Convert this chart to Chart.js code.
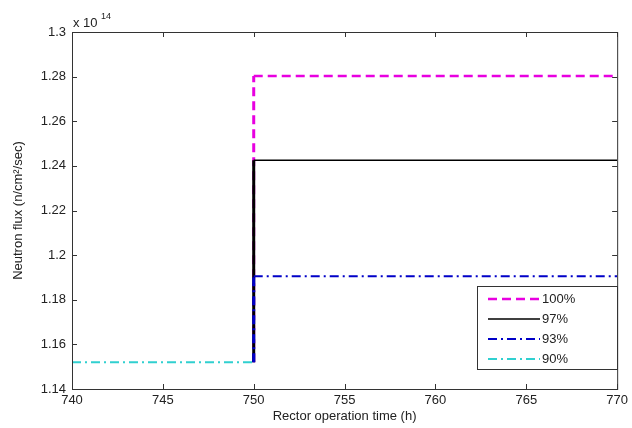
<!DOCTYPE html>
<html>
<head>
<meta charset="utf-8">
<script src="https://cdn.jsdelivr.net/npm/chart.js@4"></script>
<style>
  html, body { margin: 0; padding: 0; background: #fff; }
  #wrap { width: 632px; height: 428px; position: relative; }
</style>
</head>
<body>
<div id="wrap"><canvas id="flux-chart"></canvas></div>
<script>
// series names (legend)
const series_names = ['100%', '97%', '93%', '90%']

// time points in hours, step happens at 750 h
const time_step = [750, 750, 770]
const time_before = [740, 750]

// neutron flux, units of 1e14 n/cm2/sec
const flux_100 = [1.152, 1.2803, 1.2803]
const flux_97 = [1.152, 1.2425, 1.2425]
const flux_93 = [1.152, 1.1905, 1.1905]
const flux_90 = [1.152, 1.152]

const x_ticks = [740, 745, 750, 755, 760, 765, 770]
const y_ticks = [1.14, 1.16, 1.18, 1.2, 1.22, 1.24, 1.26, 1.28, 1.3]

const colors = ['#e800e0', '#000000', '#0000c8', '#30d0d0']
const dashes = [[9, 5], [], [9, 4, 2, 4], [9, 4, 2, 4]]
const widths = [2.5, 1.5, 2, 2]

function to_points(xs, ys) {
    let result = []
    for (let i = 0; i < xs.length; i++) {
        result.push({x: xs[i], y: ys[i]})
    }
    return result
}

const font_family = '"Liberation Sans", Arial, sans-serif'
const text_color = '#222'

let datasets = [
    to_points(time_step, flux_100),
    to_points(time_step, flux_97),
    to_points(time_step, flux_93),
    to_points(time_before, flux_90)
].map(function (pts, i) {
    return {
        label: series_names[i],
        data: pts,
        borderColor: colors[i],
        borderDash: dashes[i],
        borderWidth: widths[i],
        pointRadius: 0,
        fill: false,
        tension: 0,
        order: 3 - i,
        segment: {
            // the jump at 750 h looks heavier in the original
            borderWidth: function (s) {
                return s.p0.parsed.x === s.p1.parsed.x ? 3 : widths[i]
            }
        }
    }
})

// box round the plot with inward ticks, like the matlab axes
const box_plugin = {
    id: 'box',
    afterDatasetsDraw(chart) {
        const c = chart.ctx
        const a = chart.chartArea
        const xs = chart.scales.x
        const ys = chart.scales.y
        c.save()
        c.strokeStyle = '#333'
        c.lineWidth = 1
        c.strokeRect(a.left + 0.5, a.top + 0.5, a.right - a.left, a.bottom - a.top)
        c.beginPath()
        x_ticks.forEach(function (t) {
            let px = Math.round(xs.getPixelForValue(t)) + 0.5
            c.moveTo(px, a.bottom); c.lineTo(px, a.bottom - 5)
            c.moveTo(px, a.top); c.lineTo(px, a.top + 5)
        })
        y_ticks.forEach(function (t) {
            let py = Math.round(ys.getPixelForValue(t)) + 0.5
            c.moveTo(a.left, py); c.lineTo(a.left + 5, py)
            c.moveTo(a.right, py); c.lineTo(a.right - 5, py)
        })
        c.stroke()

        // exponent label
        c.fillStyle = text_color
        c.textBaseline = 'alphabetic'
        c.textAlign = 'left'
        c.font = '13px ' + font_family
        c.fillText('x 10', a.left + 1, 27)
        c.font = '9px ' + font_family
        c.fillText('14', a.left + 29, 19)
        c.restore()
    },
    afterDraw(chart) {
        // legend box inside the axes
        const c = chart.ctx
        const lx = 477, ly = 286, lw = 140, lh = 83
        c.save()
        c.fillStyle = '#fff'
        c.fillRect(lx, ly, lw, lh)
        c.strokeStyle = '#333'
        c.lineWidth = 1
        c.strokeRect(lx + 0.5, ly + 0.5, lw, lh)
        c.font = '13px ' + font_family
        c.textBaseline = 'middle'
        c.textAlign = 'left'
        for (let i = 0; i < series_names.length; i++) {
            let y = ly + 13 + i * 20
            c.beginPath()
            c.setLineDash(dashes[i])
            c.strokeStyle = colors[i]
            c.lineWidth = widths[i]
            c.moveTo(lx + 11, y)
            c.lineTo(lx + 63, y)
            c.stroke()
            c.setLineDash([])
            c.fillStyle = text_color
            c.fillText(series_names[i], lx + 65, y)
        }
        c.restore()
    }
}

let ctx = document.getElementById('flux-chart')

let options = {
    responsive: true,
    maintainAspectRatio: false,
    animation: false,
    layout: {
        padding: {top: 32, right: 14, left: 0, bottom: 0}
    },
    plugins: {
        legend: {display: false},
        tooltip: {enabled: false}
    },
    scales: {
        x: {
            type: 'linear',
            min: 740,
            max: 770,
            afterFit: function (scale) { scale.height = 39 },
            afterBuildTicks: function (scale) {
                scale.ticks = x_ticks.map(function (v) { return {value: v} })
            },
            grid: {display: false, drawTicks: false},
            border: {display: false},
            ticks: {
                color: text_color,
                padding: 4,
                maxRotation: 0,
                font: {family: font_family, size: 13}
            },
            title: {
                display: true,
                text: 'Rector operation time (h)',
                color: text_color,
                padding: {top: 4, bottom: 4},
                font: {family: font_family, size: 13}
            }
        },
        y: {
            type: 'linear',
            min: 1.14,
            max: 1.3,
            afterFit: function (scale) { scale.width = 72 },
            afterBuildTicks: function (scale) {
                scale.ticks = y_ticks.map(function (v) { return {value: v} })
            },
            grid: {display: false, drawTicks: false},
            border: {display: false},
            ticks: {
                color: text_color,
                padding: 6,
                font: {family: font_family, size: 13},
                callback: function (v) { return String(Number(v.toFixed(2))) }
            },
            title: {
                display: true,
                text: 'Neutron flux (n/cm²/sec)',
                color: text_color,
                padding: {top: 11, bottom: 4},
                font: {family: font_family, size: 13}
            }
        }
    }
}

let flux_chart = new Chart(ctx, {
    type: 'line',
    data: {datasets: datasets},
    options: options,
    plugins: [box_plugin]
})
</script>
</body>
</html>
